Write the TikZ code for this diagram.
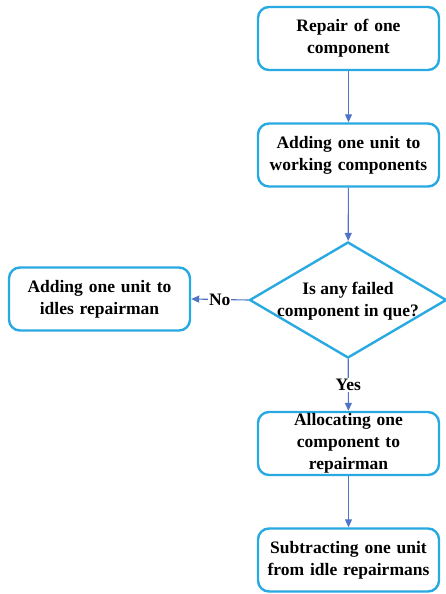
\documentclass[tikz,border=0pt]{standalone}
\usepackage{fontspec}
\setmainfont{Liberation Serif}
\usetikzlibrary{arrows.meta}
\usetikzlibrary{shapes.geometric}
\definecolor{boxcyan}{HTML}{29A9E1}
\definecolor{arrowblue}{HTML}{4F74C8}
\tikzset{
stepbox/.style={draw=boxcyan, line width=2.4pt, rounded corners=11pt, minimum width=181pt, minimum height=63pt, inner sep=0pt, text width=179pt, align=center, font=\bfseries\fontsize{17.5}{22}\selectfont},
decision/.style={diamond, draw=boxcyan, line width=2.4pt, minimum width=197pt, minimum height=116pt, inner sep=0pt},
flowtext/.style={align=center, font=\bfseries\fontsize{17.5}{22}\selectfont},
flow/.style={draw=arrowblue, line width=1.1pt, -{Triangle[length=8pt,width=7pt]}},
answer/.style={fill=white, inner sep=1pt, font=\bfseries\fontsize{17.5}{22}\selectfont}}

\begin{document}
\begin{tikzpicture}[x=1pt,y=-1pt]

                \useasboundingbox (0,0) rectangle (445,594);

                \node[stepbox] (repair) at (348.5,38.5) {Repair of one\\component};
                \node[stepbox] (working) at (348.5,155) {Adding one unit to\\working components};
                \node[decision] (queue) at (348,300) {};
                \node[flowtext] (queuetext) at (348,301) {Is any failed\\component in que?};
                \node[stepbox] (idle) at (99.5,299) {Adding one unit to\\idles repairman};
                \node[stepbox] (allocate) at (348.5,443.5) {Allocating one\\component to\\repairman};
                \node[stepbox] (subtract) at (348.5,560) {Subtracting one unit\\from idle repairmans};

                \draw[flow] (repair) -- (working);
                \draw[flow] (working) -- (queue);
                \draw[flow] (queue.west) -- (idle.east) node[midway, answer] {No};
                \draw[flow] (queue) -- (allocate) node[pos=0.5, answer] {Yes};
                \draw[flow] (allocate) -- (subtract);

            \end{tikzpicture}
\end{document}
